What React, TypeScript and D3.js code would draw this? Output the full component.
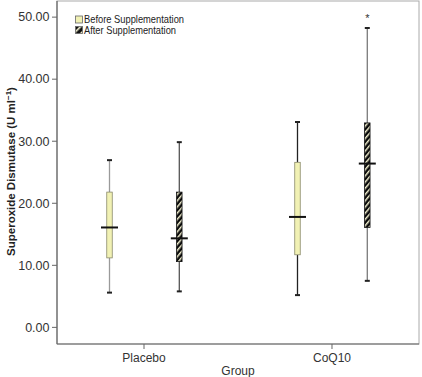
import React from "react";
import * as d3 from "d3";

const groups = ["Placebo", "CoQ10"];
const series = ["Before Supplementation", "After Supplementation"];
// [min, q1, median, q3, max] per group per series
const beforeStats = [
  [5.6, 11.2, 16.1, 21.8, 26.95],
  [5.2, 11.7, 17.8, 26.6, 33.1],
];
const afterStats = [
  [5.8, 10.6, 14.35, 21.8, 29.85],
  [7.5, 16.1, 26.4, 32.95, 48.25],
];
const extremes = [{ group: "CoQ10", series: 1, value: 50.2 }];
const yTicks = [0, 10, 20, 30, 40, 50];

const W = 422;
const H = 377;
const left = 57;
const right = 419;
const top = 1;
const bottom = 344;

export default function App() {
  const y = d3.scaleLinear().domain([-2.68, 52.6]).range([bottom, top]);
  const x = d3.scalePoint<string>().domain(groups).range([left, right]).padding(0.4628);
  const sub = d3.scalePoint<number>().domain([0, 1]).range([-34.5, 35.3]);
  const whiskerColors = [
    ["#9a9a9a", "#555555"],
    ["#222222", "#7a7a7a"],
  ];
  const font = "Liberation Sans, Arial, Helvetica, sans-serif";

  const boxes: any[] = [];
  groups.forEach((g, gi) => {
    [beforeStats[gi], afterStats[gi]].forEach((s, si) => {
      const cx = (x(g) as number) + (sub(si) as number);
      const [mn, q1, med, q3, mx] = s;
      const bw = 5.5;
      const wc = whiskerColors[gi][si];
      boxes.push(
        <g key={g + si}>
          <line x1={cx} x2={cx} y1={y(mx)} y2={y(q3)} stroke={wc} strokeWidth={1.3} />
          <line x1={cx} x2={cx} y1={y(q1)} y2={y(mn)} stroke={wc} strokeWidth={1.3} />
          <line x1={cx - 2.5} x2={cx + 2.5} y1={y(mx)} y2={y(mx)} stroke="#222" strokeWidth={2} />
          <line x1={cx - 2.5} x2={cx + 2.5} y1={y(mn)} y2={y(mn)} stroke="#222" strokeWidth={2} />
          <rect
            x={cx - bw / 2}
            y={y(q3)}
            width={bw}
            height={y(q1) - y(q3)}
            fill={si === 0 ? "#f1f1b4" : "url(#hatch)"}
            stroke={si === 0 ? "#8a8a6a" : "#111"}
            strokeWidth={0.8}
          />
          <line x1={cx - 8.5} x2={cx + 8.5} y1={y(med)} y2={y(med)} stroke="#111" strokeWidth={2} />
        </g>
      );
    });
  });

  return (
    <svg width={W} height={H} style={{ position: "absolute", left: 0, top: 0, background: "#fff" }}>
      <defs>
        <pattern id="hatch" patternUnits="userSpaceOnUse" width={4} height={4} patternTransform="rotate(-50)">
          <rect width={4} height={4} fill="#0a0a0a" />
          <rect width={4} height={1.5} fill="#f4f2d2" />
        </pattern>
        <pattern id="hatchL" patternUnits="userSpaceOnUse" width={5} height={5} patternTransform="rotate(-45)">
          <rect width={5} height={5} fill="#111" />
          <rect width={5} height={1.6} fill="#f4f2d2" />
        </pattern>
      </defs>
      <rect x={left} y={top} width={right - left} height={bottom - top} fill="#fff" stroke="#aaa" strokeWidth={1} />
      <line x1={left} x2={left} y1={top} y2={bottom} stroke="#666" strokeWidth={1.2} />
      <line x1={left} x2={right} y1={bottom} y2={bottom} stroke="#666" strokeWidth={1.2} />
      {yTicks.map((t) => (
        <g key={t}>
          <line x1={left - 5} x2={left} y1={y(t)} y2={y(t)} stroke="#666" />
          <text x={left - 7.5} y={y(t) + 4.3} textAnchor="end" fontSize={12.5} fontFamily={font} fill="#333">
            {t.toFixed(2)}
          </text>
        </g>
      ))}
      {groups.map((g) => (
        <g key={g}>
          <line x1={x(g)} x2={x(g)} y1={bottom} y2={bottom + 5} stroke="#666" />
          <text x={x(g)} y={362} textAnchor="middle" fontSize={12} fontFamily={font} fill="#333">
            {g}
          </text>
        </g>
      ))}
      <text x={(left + right) / 2} y={375} textAnchor="middle" fontSize={12} fontFamily={font} fill="#333">
        Group
      </text>
      <text
        transform={`translate(15,${171.5}) rotate(-90)`}
        textAnchor="middle"
        fontSize={11.5}
        fontWeight="bold"
        fontFamily={font}
        fill="#222"
      >
        Superoxide Dismutase (U ml<tspan dy={-4} fontSize={8}>−1</tspan><tspan dy={4}>)</tspan>
      </text>
      {boxes}
      {extremes.map((e, i) => (
        <text
          key={i}
          x={(x(e.group) as number) + (sub(e.series) as number)}
          y={y(e.value) + 6}
          textAnchor="middle"
          fontSize={11}
          fontFamily={font}
          fill="#333"
        >
          *
        </text>
      ))}
      {series.map((s, i) => (
        <g key={s}>
          <rect
            x={75.5}
            y={16 + i * 10.5}
            width={7}
            height={7}
            fill={i === 0 ? "#f1f1b4" : "url(#hatchL)"}
            stroke="#666"
            strokeWidth={0.8}
          />
          <text
            x={84}
            y={23 + i * 10.5}
            fontSize={11.5}
            fontFamily={font}
            fill="#222"
            textLength={i === 0 ? 100 : 92}
            lengthAdjust="spacingAndGlyphs"
          >
            {s}
          </text>
        </g>
      ))}
    </svg>
  );
}
